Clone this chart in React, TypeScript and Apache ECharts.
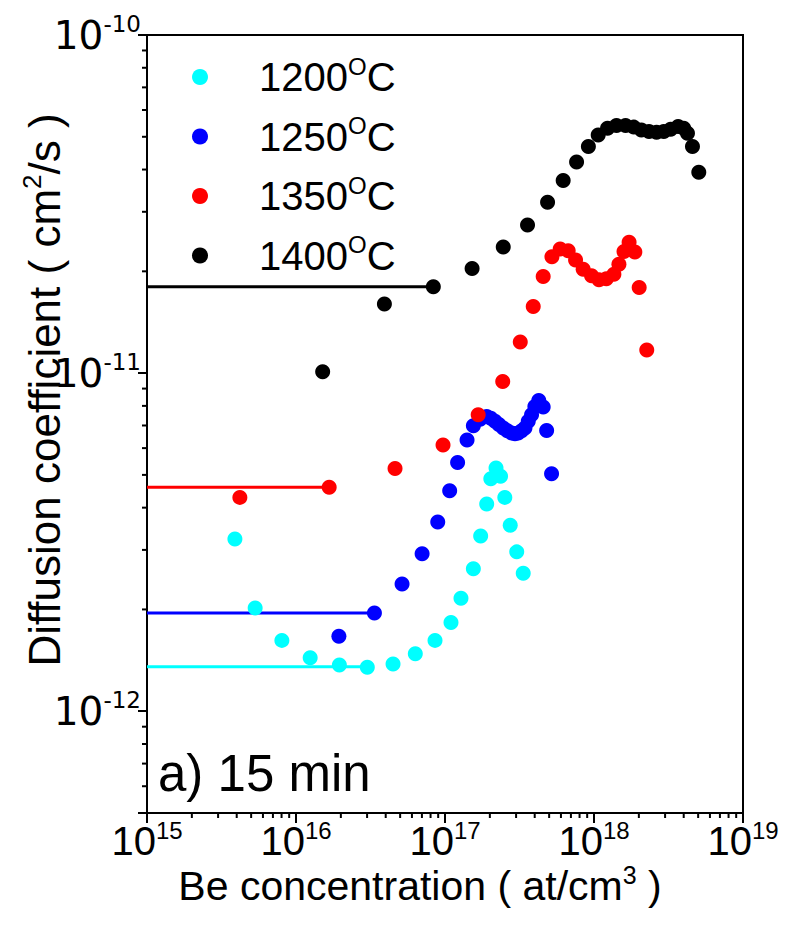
import React, { useEffect, useRef } from "react";
import * as echarts from "echarts";

// ---- data ----
const seriesNames = ["1200", "1250", "1350", "1400"];
const seriesColors = ["#00FFFF", "#0000FF", "#FF0000", "#000000"];

const cyanX = [3.89e15, 5.32e15, 8.04e15, 1.245e16, 1.955e16, 3.01e16, 4.48e16, 6.32e16, 8.57e16, 1.097e17, 1.28e17, 1.55e17, 1.735e17, 1.905e17, 2.03e17, 2.2e17, 2.36e17, 2.52e17, 2.74e17, 3.03e17, 3.35e17];
const cyanY = [3.23e-12, 2.02e-12, 1.62e-12, 1.44e-12, 1.37e-12, 1.35e-12, 1.38e-12, 1.48e-12, 1.62e-12, 1.83e-12, 2.16e-12, 2.64e-12, 3.3e-12, 4.1e-12, 4.87e-12, 5.24e-12, 4.95e-12, 4.29e-12, 3.55e-12, 2.96e-12, 2.56e-12];

const blueX = [1.94e16, 3.36e16, 5.15e16, 7.02e16, 8.94e16, 1.075e17, 1.215e17, 1.406e17, 1.55e17, 1.72e17, 1.905e17, 2.03e17, 2.165e17, 2.3e17, 2.46e17, 2.62e17, 2.8e17, 2.95e17, 3.1e17, 3.27e17, 3.44e17, 3.62e17, 3.81e17, 4.01e17, 4.26e17, 4.56e17, 4.81e17, 5.19e17];
const blueY = [1.666e-12, 1.953e-12, 2.38e-12, 2.92e-12, 3.63e-12, 4.49e-12, 5.44e-12, 6.34e-12, 6.99e-12, 7.3e-12, 7.44e-12, 7.35e-12, 7.2e-12, 7.05e-12, 6.88e-12, 6.75e-12, 6.65e-12, 6.62e-12, 6.65e-12, 6.75e-12, 6.88e-12, 7.2e-12, 7.53e-12, 7.97e-12, 8.3e-12, 7.94e-12, 6.77e-12, 5.04e-12];

const redX = [4.2e15, 1.67e16, 4.62e16, 9.7e16, 1.67e17, 2.44e17, 3.2e17, 3.91e17, 4.56e17, 5.22e17, 5.93e17, 6.71e17, 7.52e17, 8.46e17, 9.63e17, 1.08e18, 1.21e18, 1.36e18, 1.47e18, 1.59e18, 1.72e18, 1.88e18, 2.01e18, 2.26e18];
const redY = [4.29e-12, 4.6e-12, 5.22e-12, 6.13e-12, 7.53e-12, 9.45e-12, 1.235e-11, 1.574e-11, 1.93e-11, 2.21e-11, 2.33e-11, 2.3e-11, 2.16e-11, 2.03e-11, 1.94e-11, 1.89e-11, 1.9e-11, 1.96e-11, 2.1e-11, 2.29e-11, 2.44e-11, 2.28e-11, 1.79e-11, 1.17e-11];

const blackX = [1.51e16, 3.92e16, 8.35e16, 1.52e17, 2.46e17, 3.58e17, 4.88e17, 6.21e17, 7.64e17, 9.17e17, 1.067e18, 1.233e18, 1.416e18, 1.629e18, 1.85e18, 2.08e18, 2.34e18, 2.63e18, 2.94e18, 3.27e18, 3.67e18, 4.0e18, 4.24e18, 4.58e18, 5.05e18];
const blackY = [1.01e-11, 1.6e-11, 1.8e-11, 2.04e-11, 2.36e-11, 2.74e-11, 3.2e-11, 3.71e-11, 4.21e-11, 4.68e-11, 5.06e-11, 5.3e-11, 5.4e-11, 5.4e-11, 5.34e-11, 5.24e-11, 5.18e-11, 5.16e-11, 5.18e-11, 5.26e-11, 5.36e-11, 5.3e-11, 5.12e-11, 4.68e-11, 3.93e-11];

// horizontal plateau lines: from the left axis to these end points
const plateauEndX = [3.01e16, 3.36e16, 1.67e16, 8.35e16];
const plateauY = [1.353e-12, 1.953e-12, 4.6e-12, 1.8e-11];

// axes
const xMin = 1e15;
const xMax = 1e19;
const yMin = 5e-13;
const yMax = 1e-10;
const xDecades = [1e15, 1e16, 1e17, 1e18];
const yDecades = [1e-13, 1e-12, 1e-11];
const minorMultipliers = [2, 3, 4, 5, 6, 7, 8, 9];

const FONT = '"Liberation Sans", Arial, Helvetica, sans-serif';
const WIDE = '"DejaVu Sans", Verdana, sans-serif';

function makeRich(size: number, supSize: number, family: string) {
  return {
    n: { fontSize: size, fontFamily: family, color: "#000", lineHeight: Math.round(size * 1.15) },
    s: { fontSize: supSize, fontFamily: family, color: "#000", verticalAlign: "top", lineHeight: supSize },
    sp: { width: 46 },
  };
}
const rich = makeRich(40, 24, FONT);
const yRich = makeRich(39, 23, WIDE);
const yNameRich = makeRich(44, 26, FONT);
const xNameRich = makeRich(41, 25, FONT);

function isPow10(v: number) {
  const l = Math.log10(v);
  return Math.abs(l - Math.round(l)) < 1e-6;
}

export default function App() {
  const ref = useRef<HTMLDivElement>(null);
  useEffect(() => {
    document.body.style.margin = "0";
    const chart = echarts.init(ref.current!, null, { renderer: "svg" });

    const xs = [cyanX, blueX, redX, blackX];
    const ys = [cyanY, blueY, redY, blackY];

    const xMinor: number[][] = [];
    xDecades.forEach((d) => minorMultipliers.forEach((m) => xMinor.push([d * m, yMin])));
    const yMinor: number[][] = [];
    yDecades.forEach((d) =>
      minorMultipliers.forEach((m) => {
        const v = d * m;
        if (v >= yMin && v <= yMax) yMinor.push([xMin, v]);
      })
    );

    const series: any[] = [];
    seriesNames.forEach((n, i) => {
      series.push({
        type: "line",
        name: n + " plateau",
        data: [
          [xMin, plateauY[i]],
          [plateauEndX[i], plateauY[i]],
        ],
        symbol: "none",
        lineStyle: { color: seriesColors[i], width: 3 },
        silent: true,
        z: 2,
      });
    });
    seriesNames.forEach((n, i) => {
      series.push({
        type: "scatter",
        name: n,
        data: xs[i].map((x, k) => [x, ys[i][k]]),
        symbol: "circle",
        symbolSize: 15,
        itemStyle: { color: seriesColors[i], opacity: 1 },
        z: 3,
      });
    });
    series.push({
      type: "custom",
      name: "xminor",
      data: xMinor,
      silent: true,
      clip: false,
      renderItem: (params: any, api: any) => {
        const p = api.coord([api.value(0), api.value(1)]);
        return {
          type: "line",
          shape: { x1: p[0], y1: p[1], x2: p[0], y2: p[1] + 5 },
          style: { stroke: "#000", lineWidth: 2 },
        };
      },
      z: 5,
    });
    series.push({
      type: "custom",
      name: "yminor",
      data: yMinor,
      silent: true,
      clip: false,
      renderItem: (params: any, api: any) => {
        const p = api.coord([api.value(0), api.value(1)]);
        return {
          type: "line",
          shape: { x1: p[0], y1: p[1], x2: p[0] - 5, y2: p[1] },
          style: { stroke: "#000", lineWidth: 2 },
        };
      },
      z: 5,
    });

    chart.setOption({
      animation: false,
      backgroundColor: "#fff",
      grid: {
        left: 147,
        right: 42,
        top: 35,
        bottom: 118,
        show: true,
        borderColor: "#000",
        borderWidth: 2,
        backgroundColor: "transparent",
      },
      legend: {
        data: seriesNames,
        orient: "vertical",
        left: 192,
        top: 54,
        padding: 0,
        itemWidth: 16,
        itemHeight: 16,
        itemGap: 16.5,
        icon: "circle",
        selectedMode: false,
        formatter: (name: string) => `{sp|}{n|${name}}{s|O}{n|C}`,
        textStyle: { rich },
      },
      xAxis: {
        type: "log",
        logBase: 10,
        min: xMin,
        max: xMax,
        axisLine: { lineStyle: { color: "#000", width: 2 } },
        axisTick: { length: 10, lineStyle: { color: "#000", width: 2 } },
        splitLine: { show: false },
        axisLabel: {
          margin: 5,
          formatter: (v: number) => (isPow10(v) ? `{n|10}{s|${Math.round(Math.log10(v))}}` : ""),
          rich,
        },
      },
      yAxis: {
        type: "log",
        logBase: 10,
        min: yMin,
        max: yMax,
        axisLine: { lineStyle: { color: "#000", width: 2 } },
        axisTick: { length: 9, lineStyle: { color: "#000", width: 2 } },
        splitLine: { show: false },
        axisLabel: {
          margin: 6,
          formatter: (v: number) => (isPow10(v) ? `{n|10}{s|${Math.round(Math.log10(v))}}` : ""),
          rich: yRich,
        },
      },
      graphic: [
        {
          type: "text",
          left: 158,
          top: 748,
          style: { text: "a) 15 min", font: `51px ${FONT}`, fill: "#000" },
        },
        {
          type: "text",
          x: 44,
          y: 390,
          rotation: Math.PI / 2,
          style: {
            text: "{n|Diffusion coefficient ( cm}{s|2}{n|/s )}",
            rich: yNameRich,
            align: "center",
            verticalAlign: "middle",
          },
        },
        {
          type: "text",
          x: 420,
          y: 886,
          style: {
            text: "{n|Be concentration ( at/cm}{s|3}{n| )}",
            rich: xNameRich,
            align: "center",
            verticalAlign: "middle",
          },
        },
      ],
      series,
    });
    return () => chart.dispose();
  }, []);
  return <div ref={ref} style={{ width: 785, height: 931 }} />;
}
